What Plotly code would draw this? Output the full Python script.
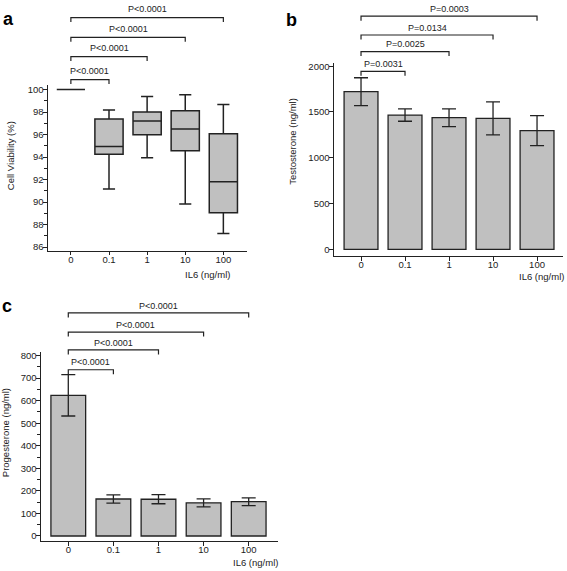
import plotly.graph_objects as go

# ---------------- data ----------------
categories = ['0', '0.1', '1', '10', '100']

# panel a: cell viability (%) box plots
viab_low = [100, 91.17, 93.95, 89.82, 87.2]
viab_q1 = [100, 94.25, 95.98, 94.57, 89.06]
viab_median = [100, 94.95, 97.2, 96.5, 91.81]
viab_q3 = [100, 97.39, 98.0, 98.12, 96.07]
viab_high = [100, 98.18, 99.38, 99.53, 98.68]
viab_pvals = ['P<0.0001', 'P<0.0001', 'P<0.0001', 'P<0.0001']

# panel b: testosterone (ng/ml)
testo_mean = [1722, 1466, 1438, 1430, 1297]
testo_sd = [152, 67, 97, 180, 164]
testo_pvals = ['P=0.0031', 'P=0.0025', 'P=0.0134', 'P=0.0003']

# panel c: progesterone (ng/ml)
prog_mean = [624, 164, 163, 147, 152]
prog_sd = [92, 18, 20, 18, 17]
prog_pvals = ['P<0.0001', 'P<0.0001', 'P<0.0001', 'P<0.0001']

# ---------------- layout helpers ----------------
W, H = 567, 571
FONT = 'Liberation Sans, Arial, sans-serif'
INK = '#222222'
FILL = '#c0c0c0'
xs = list(range(len(categories)))


def px(x):
    return x / W


def py(y):
    return 1 - y / H


fig = go.Figure()

# panel a
fig.add_trace(go.Box(
    x=xs, q1=viab_q1, median=viab_median, q3=viab_q3,
    lowerfence=viab_low, upperfence=viab_high,
    fillcolor=FILL, line=dict(color=INK, width=1.5),
    width=0.74, whiskerwidth=0.43, boxpoints=False,
    xaxis='x', yaxis='y', showlegend=False, hoverinfo='skip'))

# panel b
fig.add_trace(go.Bar(
    x=xs, y=testo_mean, width=0.77,
    marker=dict(color=FILL, line=dict(color=INK, width=1.3)),
    error_y=dict(type='data', array=testo_sd, color=INK, thickness=1.3, width=7),
    xaxis='x2', yaxis='y2', showlegend=False))

# panel c
fig.add_trace(go.Bar(
    x=xs, y=prog_mean, width=0.77,
    marker=dict(color=FILL, line=dict(color=INK, width=1.3)),
    error_y=dict(type='data', array=prog_sd, color=INK, thickness=1.3, width=7),
    xaxis='x3', yaxis='y3', showlegend=False))

tickfont = dict(family=FONT, size=9.5, color=INK)
axis_common = dict(showline=True, linecolor=INK, linewidth=1.2, ticks='outside',
                   ticklen=3.5, tickwidth=1.2, tickcolor=INK, showgrid=False,
                   zeroline=False, tickfont=tickfont, fixedrange=True)
xcommon = dict(axis_common, tickmode='array', tickvals=xs, ticktext=categories,
               ticklabelstandoff=-4)
ycommon = dict(axis_common, ticklabelstandoff=-2)

fig.update_layout(
    width=W, height=H, margin=dict(l=0, r=0, t=0, b=0),
    paper_bgcolor='white', plot_bgcolor='white',
    xaxis=dict(xcommon, domain=[px(48), px(247)], range=[-0.60, 4.62], anchor='y'),
    yaxis=dict(ycommon, domain=[py(250), py(83)], range=[85.67, 100.38],
               tickmode='array', tickvals=[86, 88, 90, 92, 94, 96, 98, 100],
               minor=dict(ticks='outside', ticklen=2.5, dtick=1, tickcolor=INK, tickwidth=1),
               anchor='x'),
    xaxis2=dict(xcommon, domain=[px(334), px(563)], range=[-0.614, 4.59], anchor='y2'),
    yaxis2=dict(ycommon, domain=[py(255.3), py(61)], range=[-74, 2030],
                tickmode='array', tickvals=[0, 500, 1000, 1500, 2000], anchor='x2'),
    xaxis3=dict(xcommon, domain=[px(41), px(278)], range=[-0.605, 4.65], anchor='y3'),
    yaxis3=dict(ycommon, domain=[py(542.7), py(351.7)], range=[-22, 817.6],
                tickmode='array', tickvals=[0, 100, 200, 300, 400, 500, 600, 700, 800],
                minor=dict(ticks='outside', ticklen=2.5, dtick=50, tickcolor=INK, tickwidth=1),
                anchor='x3'),
)

shapes = []
annotations = []


def brackets(xref, pvals, bar_y, label_y):
    for i, (p, yb, yl) in enumerate(zip(pvals, bar_y, label_y)):
        j = i + 1
        top = py(yb)
        bot = py(yb + 4.5)
        shapes.append(dict(type='path', xref=xref, yref='paper',
                           path=f'M {xs[0]},{bot} L {xs[0]},{top} L {xs[j]},{top} L {xs[j]},{bot}',
                           line=dict(color=INK, width=1.2)))
        annotations.append(dict(xref=xref, yref='paper', x=(xs[0] + xs[j]) / 2, y=py(yl),
                                text=p, showarrow=False, xanchor='center', yanchor='middle',
                                font=dict(family=FONT, size=9, color=INK)))


brackets('x', viab_pvals, [77.3, 54, 34.7, 14.7], [69, 45, 26, 6])
brackets('x2', testo_pvals, [69, 49, 32.3, 13.3], [61.7, 41.7, 25, 6])
brackets('x3', prog_pvals, [370, 350, 332, 312.7], [362, 342.7, 324.7, 306])


def label(text, x, y, size=9.5, angle=0, bold=False, xanchor='center'):
    annotations.append(dict(xref='paper', yref='paper', x=px(x), y=py(y), text=f'<b>{text}</b>' if bold else text,
                            showarrow=False, xanchor=xanchor, yanchor='middle', textangle=angle,
                            font=dict(family=FONT, size=size, color='black' if bold else INK)))


# panel letters
label('a', 8, 16.5, size=18, bold=True)
label('b', 291, 17.5, size=18, bold=True)
label('c', 7, 305.5, size=18, bold=True)

# axis titles
label('Cell Viability (%)', 10.5, 154, angle=-90)
label('Testosterone (ng/ml)', 293, 140, angle=-90)
label('Progesterone (ng/ml)', 5, 434, angle=-90)
label('IL6 (ng/ml)', 207, 274)
label('IL6 (ng/ml)', 541, 276)
label('IL6 (ng/ml)', 255, 564)

fig.update_layout(shapes=shapes, annotations=annotations)

# the page's default body margin would push the 567x571 figure out of the window
fig.write_html('out.html', config={'displayModeBar': False},
               post_script="document.body.style.margin='0';document.body.style.overflow='hidden';")
